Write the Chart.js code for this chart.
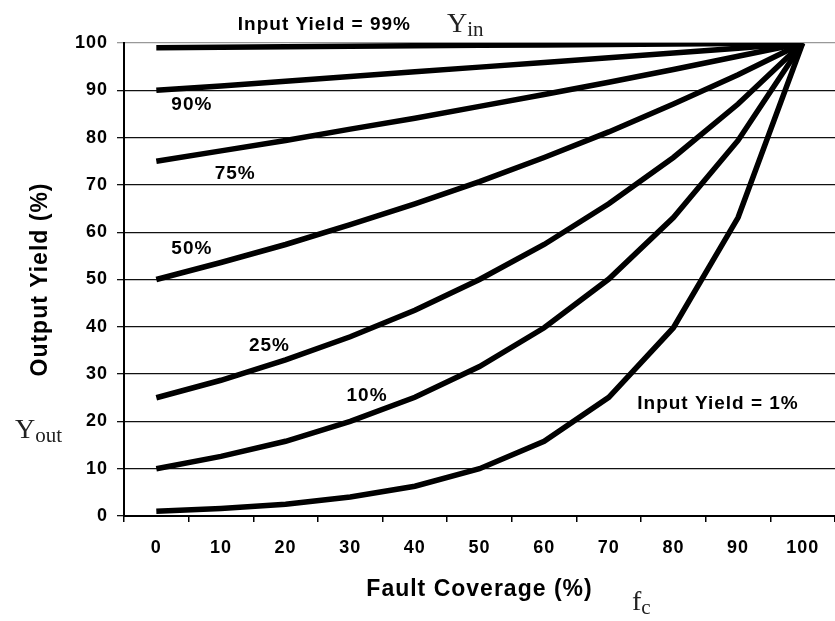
<!DOCTYPE html>
<html>
<head>
<meta charset="utf-8">
<script src="https://cdn.jsdelivr.net/npm/chart.js@4/dist/chart.umd.min.js"></script>
<style>
  body { margin: 0; background: #fff; }
  canvas { display: block; }
</style>
</head>
<body>
<canvas id="yield-chart" width="835" height="621"></canvas>
<script>
// fault coverage (%) categories
const coverage = ["0", "10", "20", "30", "40", "50", "60", "70", "80", "90", "100"];

// output yield (%) for each input yield
const yield99 = [99.0, 99.1, 99.2, 99.3, 99.4, 99.5, 99.6, 99.7, 99.8, 99.9, 100];
const yield90 = [90.0, 90.9, 91.9, 92.9, 93.9, 94.9, 95.9, 96.9, 97.9, 98.9, 100];
const yield75 = [75.0, 77.2, 79.4, 81.8, 84.1, 86.6, 89.1, 91.7, 94.4, 97.2, 100];
const yield50 = [50.0, 53.6, 57.4, 61.6, 66.0, 70.7, 75.8, 81.2, 87.1, 93.3, 100];
const yield25 = [25.0, 28.7, 33.0, 37.9, 43.5, 50.0, 57.4, 66.0, 75.8, 87.1, 100];
const yield10 = [10.0, 12.6, 15.8, 20.0, 25.1, 31.6, 39.8, 50.1, 63.1, 79.4, 100];
const yield01 = [1.0, 1.6, 2.5, 4.0, 6.3, 10.0, 15.8, 25.1, 39.8, 63.1, 100];

const yTicks = [0, 10, 20, 30, 40, 50, 60, 70, 80, 90, 100];

// curve labels, placed in data space (category index, yield)
const curveLabels = [
  { text: "Input Yield = 99%", x: 2.60, y: 103.8 },
  { text: "90%", x: 0.55, y: 86.9 },
  { text: "75%", x: 1.22, y: 72.3 },
  { text: "50%", x: 0.55, y: 56.4 },
  { text: "25%", x: 1.75, y: 35.9 },
  { text: "10%", x: 3.26, y: 25.4 },
  { text: "Input Yield = 1%", x: 8.69, y: 23.7 }
];

const sans = "'Liberation Sans', Arial, sans-serif";
const serif = "'Liberation Serif', 'Times New Roman', serif";

function series(data) {
  return {
    data: data,
    borderColor: "#000",
    borderWidth: 5.5,
    pointRadius: 0,
    tension: 0,
    fill: false
  };
}

// the original lettering is set a bit wide
const spacing = {
  id: "spacing",
  beforeDraw(chart) { chart.ctx.letterSpacing = "1px"; }
};

// draws the curve labels and the serif symbols
const annotations = {
  id: "annotations",
  afterDatasetsDraw(chart) {
    const { ctx, scales } = chart;
    ctx.save();
    ctx.letterSpacing = "1px";
    ctx.fillStyle = "#000";
    ctx.font = "bold 19px " + sans;
    ctx.textAlign = "center";
    ctx.textBaseline = "middle";
    curveLabels.forEach((l) => {
      ctx.fillText(l.text, scales.x.getPixelForValue(l.x), scales.y.getPixelForValue(l.y));
    });

    ctx.letterSpacing = "0px";
    ctx.fillStyle = "#222";
    ctx.textAlign = "left";
    ctx.textBaseline = "alphabetic";
    const symbol = (main, sub, x, y) => {
      ctx.font = "28px " + serif;
      ctx.fillText(main, x, y);
      const w = ctx.measureText(main).width;
      ctx.font = "21px " + serif;
      ctx.fillText(sub, x + w, y + 4);
    };
    symbol("Y", "in", 447, 32);
    symbol("Y", "out", 15, 438);
    symbol("f", "c", 632, 610);
    ctx.restore();
  }
};

new Chart(document.getElementById("yield-chart"), {
  type: "line",
  data: {
    labels: coverage,
    datasets: [yield99, yield90, yield75, yield50, yield25, yield10, yield01].map(series)
  },
  options: {
    responsive: false,
    animation: false,
    layout: { padding: { top: 43, left: 23, right: 0, bottom: 14 } },
    plugins: {
      legend: { display: false },
      tooltip: { enabled: false }
    },
    scales: {
      x: {
        offset: true,
        grid: {
          offset: true,
          drawOnChartArea: false,
          tickLength: 6,
          color: "#000",
          lineWidth: 1.5
        },
        border: { color: "#000", width: 2 },
        ticks: {
          color: "#000",
          padding: 15,
          font: { family: sans, size: 18, weight: "bold" }
        },
        title: {
          display: true,
          text: "Fault Coverage (%)",
          color: "#000",
          font: { family: sans, size: 23, weight: "bold" }
        },
        afterFit(scale) { scale.height = 91; }
      },
      y: {
        min: 0,
        max: 100,
        afterBuildTicks(scale) { scale.ticks = yTicks.map((v) => ({ value: v })); },
        grid: {
          tickLength: 7,
          color: (c) => (c.tick && c.tick.value === 100 ? "#999" : "#111"),
          lineWidth: 1.3
        },
        border: { color: "#000", width: 2 },
        ticks: {
          color: "#000",
          padding: 9,
          font: { family: sans, size: 18, weight: "bold" }
        },
        title: {
          display: true,
          text: "Output Yield (%)",
          color: "#000",
          font: { family: sans, size: 23, weight: "bold" }
        },
        afterFit(scale) { scale.width = 101; }
      }
    }
  },
  plugins: [spacing, annotations]
});
</script>
</body>
</html>
